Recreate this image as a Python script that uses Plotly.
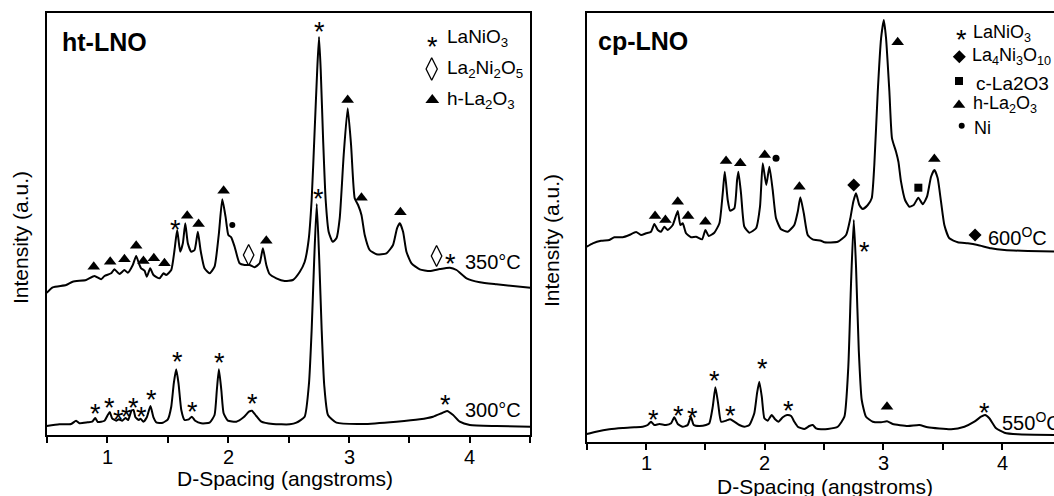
import plotly.graph_objects as go

W, H = 1054, 496

# ---------------- ht-LNO (left panel) ----------------
ht350_d = [0.50, 0.550, 0.661, 0.715, 0.826, 0.895, 0.950, 0.978, 1.033, 1.060, 1.102, 1.143, 1.171,
           1.212, 1.240, 1.262, 1.281, 1.309, 1.328, 1.356, 1.383, 1.433, 1.466, 1.488, 1.530, 1.557,
           1.579, 1.604, 1.626, 1.646, 1.667, 1.695, 1.723, 1.750, 1.772, 1.805, 1.847, 1.888, 1.924,
           1.952, 1.979, 2.002, 2.026, 2.054, 2.095, 2.137, 2.178, 2.219, 2.261, 2.288, 2.316, 2.343,
           2.399, 2.468, 2.536, 2.592, 2.633, 2.666, 2.691, 2.716, 2.737, 2.752, 2.766, 2.786, 2.807,
           2.832, 2.865, 2.896, 2.923, 2.956, 2.989, 3.017, 3.047, 3.075, 3.103, 3.130, 3.171, 3.227,
           3.310, 3.364, 3.397, 3.420, 3.447, 3.475, 3.517, 3.585, 3.668, 3.751, 3.834, 3.889, 3.972,
           4.082, 4.220, 4.50]
ht350_i = [142.3, 147.7, 150.0, 153.3, 155.0, 159.0, 155.7, 159.0, 161.7, 165.7, 161.0, 165.0, 162.3,
           170.0, 179.0, 171.7, 166.7, 164.3, 158.3, 166.7, 160.0, 156.7, 161.7, 160.0, 165.0, 185.0,
           205.0, 183.3, 191.7, 211.7, 191.7, 183.3, 185.0, 203.3, 185.0, 166.7, 161.7, 168.3, 201.7,
           235.7, 218.3, 200.0, 197.7, 188.3, 171.7, 170.0, 170.0, 167.7, 171.7, 186.7, 170.0, 161.0,
           156.7, 154.0, 155.0, 163.0, 173.0, 195.0, 235.0, 305.0, 365.0, 398.0, 365.0, 295.0, 235.0,
           203.0, 193.3, 196.7, 216.7, 280.0, 326.7, 290.0, 236.7, 230.0, 220.0, 200.0, 185.0, 180.7,
           181.7, 190.0, 206.7, 211.7, 203.3, 183.3, 171.7, 165.7, 164.0, 166.0, 167.3, 165.0, 156.7,
           152.7, 150.7, 147.3]

ht300_d = [0.50, 0.605, 0.702, 0.743, 0.771, 0.839, 0.876, 0.901, 0.922, 0.978, 1.005, 1.022, 1.041,
           1.075, 1.096, 1.124, 1.151, 1.174, 1.201, 1.218, 1.234, 1.262, 1.276, 1.300, 1.328, 1.358,
           1.383, 1.411, 1.460, 1.502, 1.530, 1.551, 1.571, 1.590, 1.613, 1.640, 1.675, 1.700, 1.728,
           1.778, 1.847, 1.888, 1.907, 1.924, 1.944, 1.963, 1.998, 2.068, 2.128, 2.172, 2.197, 2.233,
           2.275, 2.371, 2.509, 2.565, 2.633, 2.669, 2.691, 2.712, 2.733, 2.754, 2.774, 2.795, 2.826,
           2.896, 3.116, 3.392, 3.585, 3.695, 3.765, 3.811, 3.861, 3.916, 3.999, 4.220, 4.50]
ht300_i = [9.0, 10.7, 11.0, 14.3, 11.7, 12.7, 13.3, 17.0, 13.0, 14.3, 20.0, 23.0, 16.7,
           14.3, 15.7, 14.3, 17.0, 15.0, 24.3, 25.0, 17.7, 15.0, 16.3, 13.3, 17.7, 29.0,
           17.7, 12.3, 12.3, 15.7, 28.3, 51.7, 65.7, 51.7, 25.0, 15.0, 15.7, 18.3, 14.3,
           11.7, 12.3, 20.0, 45.0, 65.7, 45.0, 21.7, 14.3, 13.3, 17.7, 23.3, 24.3, 19.0,
           13.3, 11.0, 10.7, 12.3, 18.3, 51.7, 105.0, 175.0, 231.0, 175.0, 105.0, 50.0, 20.0,
           12.3, 11.0, 13.3, 15.7, 18.3, 21.7, 24.0, 20.0, 13.3, 10.0, 9.0, 8.3]

ht_tri_d = [0.889, 1.025, 1.143, 1.240, 1.300, 1.386, 1.474, 1.662, 1.756, 1.963, 2.316, 2.989, 3.103, 3.425]
ht_tri_i = [168.3, 173.3, 175.7, 189.3, 174.0, 176.7, 171.7, 219.3, 211.0, 244.3, 194.3, 335.0, 237.3, 222.7]
ht_star_d = [1.565, 2.752, 2.744, 3.842, 0.903, 1.019, 1.094, 1.162, 1.220, 1.286, 1.369, 1.579, 1.709,
             1.930, 2.205, 3.798]
ht_star_i = [211.7, 410.0, 243.3, 178.3, 28.3, 34.3, 21.7, 25.0, 34.3, 25.0, 42.3, 80.0, 30.0,
             79.0, 38.3, 36.7]
ht_dia_d = [2.170, 3.724]
ht_dia_i = [180.0, 179.0]
ht_dot_d = [2.035]
ht_dot_i = [210.0]

# ---------------- cp-LNO (right panel) ----------------
cp600_d = [0.50, 0.551, 0.621, 0.691, 0.733, 0.804, 0.859, 0.916, 0.958, 1.000, 1.042, 1.070, 1.099,
           1.126, 1.154, 1.183, 1.225, 1.267, 1.289, 1.309, 1.337, 1.379, 1.421, 1.472, 1.500, 1.528,
           1.575, 1.618, 1.646, 1.663, 1.688, 1.708, 1.744, 1.767, 1.778, 1.800, 1.828, 1.870, 1.927,
           1.960, 1.983, 2.013, 2.039, 2.067, 2.095, 2.137, 2.194, 2.249, 2.278, 2.300, 2.329, 2.362,
           2.404, 2.474, 2.502, 2.615, 2.685, 2.721, 2.746, 2.769, 2.797, 2.826, 2.868, 2.901, 2.923,
           2.952, 2.980, 3.003, 3.022, 3.050, 3.072, 3.106, 3.126, 3.148, 3.182, 3.218, 3.255, 3.294,
           3.331, 3.367, 3.401, 3.429, 3.457, 3.485, 3.513, 3.555, 3.626, 3.710, 3.794, 3.906, 4.019,
           4.216, 4.50]
cp600_i = [195.3, 198.7, 201.3, 202.0, 204.7, 204.7, 207.0, 210.0, 207.0, 208.7, 210.3, 218.0, 212.0,
           210.3, 215.3, 212.0, 217.0, 231.0, 217.0, 218.7, 208.7, 204.7, 205.3, 202.7, 212.0, 206.0,
           209.3, 218.7, 248.7, 270.3, 242.0, 231.3, 233.7, 262.0, 270.3, 248.7, 215.3, 209.3, 213.7,
           235.3, 278.7, 257.0, 275.3, 252.0, 223.7, 212.7, 210.3, 217.0, 230.3, 244.7, 228.7, 207.0,
           202.7, 201.3, 199.7, 200.3, 207.0, 223.7, 240.3, 248.7, 237.0, 233.0, 237.0, 243.7, 277.0,
           350.3, 403.7, 422.0, 403.7, 350.3, 303.7, 290.3, 280.3, 260.3, 242.0, 235.3, 237.0, 244.3,
           237.7, 245.3, 265.3, 272.0, 263.7, 240.3, 217.0, 203.7, 199.7, 198.7, 197.0, 193.7, 192.0,
           191.0, 190.5]

cp550_d = [0.50, 0.579, 0.691, 0.804, 0.901, 0.972, 1.014, 1.042, 1.070, 1.112, 1.168, 1.211, 1.238,
           1.267, 1.309, 1.351, 1.377, 1.402, 1.449, 1.505, 1.533, 1.562, 1.584, 1.607, 1.632, 1.674,
           1.708, 1.744, 1.786, 1.828, 1.870, 1.912, 1.935, 1.954, 1.975, 1.997, 2.025, 2.059, 2.087,
           2.115, 2.152, 2.188, 2.222, 2.249, 2.278, 2.334, 2.376, 2.404, 2.432, 2.474, 2.531, 2.615,
           2.671, 2.704, 2.727, 2.750, 2.769, 2.792, 2.817, 2.853, 2.910, 2.980, 3.030, 3.078, 3.205,
           3.302, 3.373, 3.570, 3.682, 3.766, 3.822, 3.856, 3.892, 3.949, 4.019, 4.132, 4.50]
cp550_i = [8.0, 10.3, 12.7, 14.0, 14.7, 15.3, 17.0, 20.3, 17.0, 18.0, 17.0, 18.7, 24.7,
           18.0, 15.3, 17.0, 25.3, 17.0, 16.0, 17.0, 18.7, 35.3, 54.7, 38.7, 20.3, 21.3,
           22.7, 20.3, 17.0, 15.3, 17.0, 28.7, 48.7, 60.3, 45.3, 23.7, 21.3, 27.0, 22.7,
           20.3, 24.7, 27.0, 26.0, 20.3, 15.3, 13.0, 16.0, 17.0, 13.7, 12.7, 13.0, 15.3,
           25.3, 75.3, 158.7, 222.0, 175.3, 92.0, 42.0, 25.3, 20.3, 19.7, 20.7, 18.0, 16.0,
           17.0, 14.7, 12.7, 15.3, 20.3, 25.3, 27.0, 23.7, 13.7, 9.3, 7.7, 7.0]

cp_tri_d = [1.076, 1.163, 1.267, 1.354, 1.500, 1.674, 1.794, 2.000, 2.292, 3.120, 3.429, 3.030]
cp_tri_i = [226.0, 222.0, 240.3, 226.0, 220.3, 281.0, 278.7, 287.0, 255.3, 399.7, 283.0, 35.3]
cp_star_d = [2.839, 3.850, 1.061, 1.272, 1.390, 1.575, 1.708, 1.983, 2.199]
cp_star_i = [197.0, 36.0, 28.7, 33.0, 31.3, 68.0, 33.0, 80.3, 38.0]
cp_dia_d = [2.750, 3.772]
cp_dia_i = [257.0, 207.0]
cp_sq_d = [3.294]
cp_sq_i = [254.3]
cp_dot_d = [2.095]
cp_dot_i = [283.7]

tick_vals = [0.5, 1.0, 1.5, 2.0, 2.5, 3.0, 3.5, 4.0, 4.5]
tick_text = ["", "1", "", "2", "", "3", "", "4", ""]

# ---------------- layout geometry (pixels) ----------------
L_X0, L_X1, L_Y0, L_Y1 = 46.7, 530.4, 435.0, 13.3
R_X0, R_Y0, R_Y1 = 586.7, 442.0, 13.3
R_PX_PER = 118.7

def lx(px):
    return 0.5 + (px - L_X0) / (L_X1 - L_X0) * 4.0

def ly(py):
    return L_Y0 - py

def rx(px):
    return 0.5 + (px - R_X0) / R_PX_PER

def ry(py):
    return R_Y0 - py

def P(px, py):
    return px / W, 1 - py / H

FONT = "Arial, Liberation Sans, sans-serif"
BLACK = "#000000"

fig = go.Figure()

line_style = dict(color=BLACK, width=2, shape="spline", smoothing=0.5)
fig.add_trace(go.Scatter(x=ht350_d, y=ht350_i, mode="lines", line=line_style, xaxis="x", yaxis="y"))
fig.add_trace(go.Scatter(x=ht300_d, y=ht300_i, mode="lines", line=line_style, xaxis="x", yaxis="y"))
fig.add_trace(go.Scatter(x=cp600_d, y=cp600_i, mode="lines", line=line_style, xaxis="x2", yaxis="y2"))
fig.add_trace(go.Scatter(x=cp550_d, y=cp550_i, mode="lines", line=line_style, xaxis="x2", yaxis="y2"))

def markers(xs, ys, symbol, size, ax, ay, lw=0):
    fig.add_trace(go.Scatter(
        x=xs, y=ys, mode="markers", xaxis=ax, yaxis=ay, cliponaxis=False,
        marker=dict(symbol=symbol, size=size, color=BLACK,
                    line=dict(color=BLACK, width=lw))))

markers(ht_tri_d, ht_tri_i, "triangle-up", 11, "x", "y")
markers(ht_dia_d, ht_dia_i, "diamond-tall-open", 15, "x", "y", lw=1.3)
markers(ht_dot_d, ht_dot_i, "circle", 6, "x", "y")
markers(cp_tri_d, cp_tri_i, "triangle-up", 11, "x2", "y2")
markers(cp_dia_d, cp_dia_i, "diamond", 10, "x2", "y2")
markers(cp_sq_d, cp_sq_i, "square", 8, "x2", "y2")
markers(cp_dot_d, cp_dot_i, "circle", 7, "x2", "y2")

# legend symbols (positions in pixels converted to axis units)
markers([lx(432.3)], [ly(100)], "triangle-up", 12, "x", "y")
markers([lx(431.7)], [ly(69)], "diamond-tall-open", 16, "x", "y", lw=1.3)
markers([rx(959.3)], [ry(56.7)], "diamond", 10, "x2", "y2")
markers([rx(959)], [ry(81)], "square", 8, "x2", "y2")
markers([rx(959)], [ry(105)], "triangle-up", 11, "x2", "y2")
markers([rx(961.7)], [ry(125.7)], "circle", 6, "x2", "y2")

ann = []

def star(x, y, xr, yr, size=27):
    ann.append(dict(text="*", x=x, y=y, xref=xr, yref=yr, showarrow=False,
                    font=dict(family=FONT, size=size, color=BLACK), yshift=-7))

for d, i in zip(ht_star_d, ht_star_i):
    star(d, i, "x", "y")
for d, i in zip(cp_star_d, cp_star_i):
    star(d, i, "x2", "y2")
star(lx(432.3), ly(40), "x", "y")
star(rx(961.7), ry(33.3), "x2", "y2")

def text(px, py, s, size=20, anchor="left", bold=False, angle=0):
    x, y = P(px, py)
    ann.append(dict(text=("<b>%s</b>" % s if bold else s), x=x, y=y, xref="paper", yref="paper",
                    showarrow=False, xanchor=anchor, yanchor="middle", textangle=angle,
                    font=dict(family=FONT, size=size, color=BLACK)))

# tick labels (drawn as annotations to control their offset)
for v, t in zip(tick_vals, tick_text):
    if t:
        ann.append(dict(text=t, x=v, xref="x", y=P(0, 457)[1], yref="paper", showarrow=False,
                        yanchor="middle", font=dict(family=FONT, size=20, color=BLACK)))
        ann.append(dict(text=t, x=v, xref="x2", y=P(0, 463)[1], yref="paper", showarrow=False,
                        yanchor="middle", font=dict(family=FONT, size=20, color=BLACK)))

# panel titles
text(60, 42, "ht-LNO", size=25, bold=True)
text(596, 41, "cp-LNO", size=25, bold=True)

# legends
text(445, 38, "LaNiO<sub>3</sub>", size=19)
text(445, 69, "La<sub>2</sub>Ni<sub>2</sub>O<sub>5</sub>", size=19)
text(445, 100, "h-La<sub>2</sub>O<sub>3</sub>", size=19)
text(971, 33, "LaNiO<sub>3</sub>", size=18)
text(970, 57, "La<sub>4</sub>Ni<sub>3</sub>O<sub>10</sub>", size=18)
text(974, 83, "c-La2O3", size=19)
text(971, 105, "h-La<sub>2</sub>O<sub>3</sub>", size=18)
text(972, 128, "Ni", size=18)

# temperature labels
text(523, 262, "350°C", size=20, anchor="right")
text(523, 410, "300°C", size=20, anchor="right")
text(1049, 237, "600<sup>O</sup>C", size=20, anchor="right")
text(1000, 421, "550<sup>O</sup>C", size=20, anchor="left")

# axis titles
text(285, 478, "D-Spacing (angstroms)", size=21, anchor="center")
text(825, 486, "D-Spacing (angstroms)", size=21, anchor="center")
text(20, 238, "Intensity (a.u.)", size=21, anchor="center", angle=-90)
text(552, 241, "Intensity (a.u.)", size=21, anchor="center", angle=-90)

xaxis_common = dict(tickmode="array", tickvals=tick_vals, showticklabels=False, ticks="outside",
                    ticklen=6, tickwidth=1.5, tickcolor=BLACK, showline=True, linecolor=BLACK,
                    linewidth=1.5, showgrid=False, zeroline=False)
yaxis_common = dict(showticklabels=False, ticks="", showline=True, linecolor=BLACK, linewidth=1.5,
                    showgrid=False, zeroline=False)

fig.update_layout(
    width=W, height=H, margin=dict(l=0, r=0, t=0, b=0),
    paper_bgcolor="white", plot_bgcolor="white", showlegend=False,
    font=dict(family=FONT, color=BLACK),
    xaxis=dict(domain=[L_X0 / W, L_X1 / W], range=[0.5, 4.5], mirror=True, anchor="y", **xaxis_common),
    yaxis=dict(domain=[1 - L_Y0 / H, 1 - L_Y1 / H], range=[0, L_Y0 - L_Y1], mirror=True,
               anchor="x", **yaxis_common),
    xaxis2=dict(domain=[R_X0 / W, 1.0], range=[0.5, rx(W)], mirror=True, anchor="y2", **xaxis_common),
    yaxis2=dict(domain=[1 - R_Y0 / H, 1 - R_Y1 / H], range=[0, R_Y0 - R_Y1], mirror=False,
                anchor="x2", **yaxis_common),
    annotations=ann,
)

fig.write_html("out.html")
